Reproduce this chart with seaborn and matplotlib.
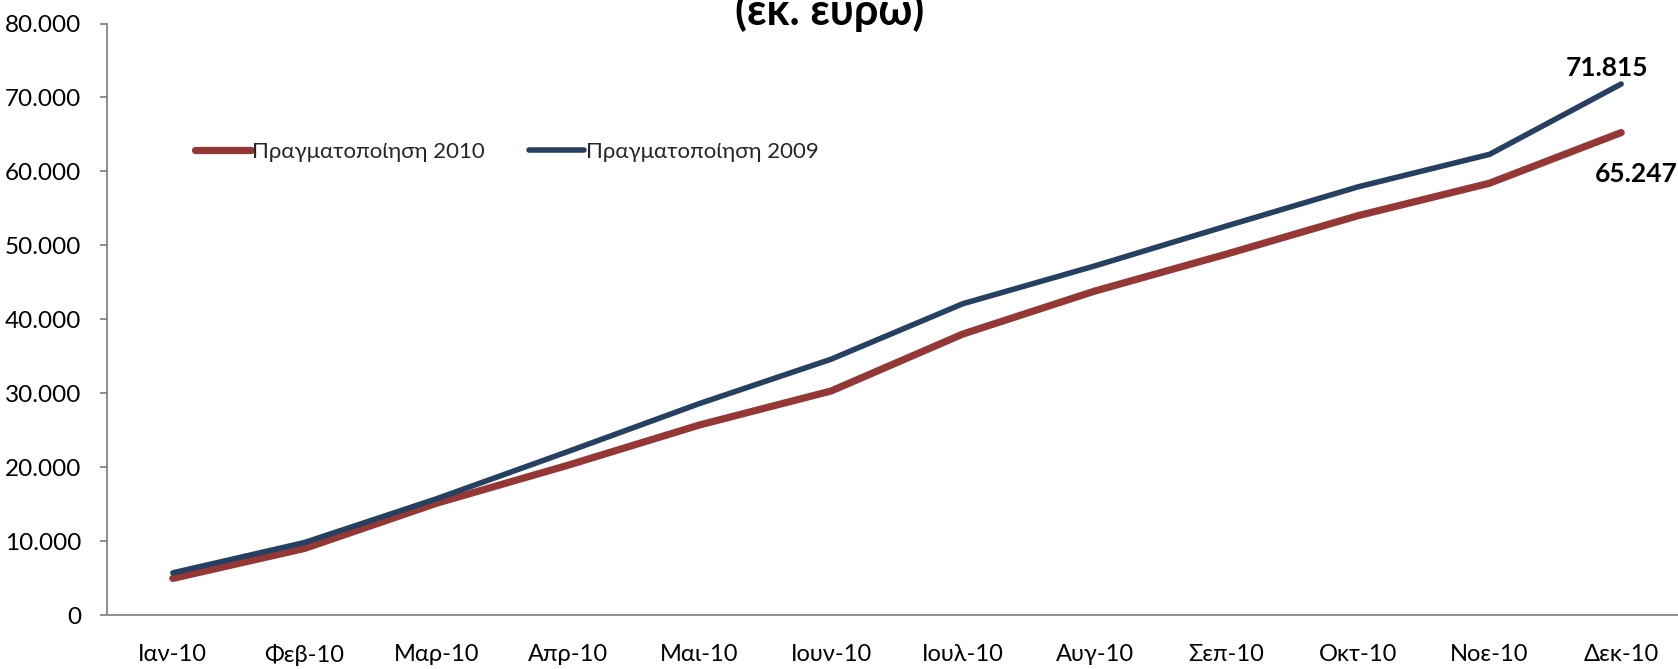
import matplotlib
matplotlib.use("Agg")
import matplotlib.pyplot as plt
import seaborn as sns
import pandas as pd
from matplotlib.ticker import FuncFormatter, MultipleLocator

months = ["Ιαν-10", "Φεβ-10", "Μαρ-10", "Απρ-10", "Μαι-10", "Ιουν-10",
          "Ιουλ-10", "Αυγ-10", "Σεπ-10", "Οκτ-10", "Νοε-10", "Δεκ-10"]
real_2010 = [4950, 9000, 15100, 20250, 25700, 30300, 38000, 43800, 48800, 54000, 58400, 65247]
real_2009 = [5700, 9800, 15700, 22100, 28600, 34600, 42100, 47200, 52600, 57900, 62300, 71815]
label_2010 = "Πραγματοποίηση 2010"
label_2009 = "Πραγματοποίηση 2009"
title = "(εκ. ευρω)"

sns.set_theme(style="white")
plt.rcParams["font.family"] = ["Lato", "DejaVu Sans"]

df = pd.DataFrame({"month": months, "v2010": real_2010, "v2009": real_2009})
df["x"] = range(len(months))

W, H = 1678, 669
fig = plt.figure(figsize=(W / 100, H / 100), dpi=100)
ax = fig.add_axes([107 / W, 1 - 615 / H, (1687 - 107) / W, (615 - 23.5) / H])

red = "#953735"
blue = "#254061"
sns.lineplot(data=df, x="x", y="v2010", ax=ax, color=red, linewidth=5.2,
             label=label_2010, solid_capstyle="round")
sns.lineplot(data=df, x="x", y="v2009", ax=ax, color=blue, linewidth=4.0,
             label=label_2009, solid_capstyle="round")

ax.set_xlim(-0.5, len(months) - 0.5)
ax.set_ylim(0, 80000)
ax.set_xticks(range(len(months)))
ax.set_xticklabels(months)
ax.yaxis.set_major_locator(MultipleLocator(10000))
ax.yaxis.set_major_formatter(FuncFormatter(lambda v, p: f"{int(v):,}".replace(",", ".")))
ax.set_xlabel("")
ax.set_ylabel("")

for s in ["top", "right"]:
    ax.spines[s].set_visible(False)
for s in ["left", "bottom"]:
    ax.spines[s].set_color("#868686")
    ax.spines[s].set_linewidth(1.3)

ax.tick_params(axis="y", which="major", left=True, length=5, width=1.3, color="#868686",
               pad=13.5, labelsize=17.5, labelcolor="black")
ax.tick_params(axis="x", which="major", bottom=False, length=0, pad=21, labelsize=17,
               labelcolor="black")

ax.annotate(f"{real_2009[-1]:,}".replace(",", "."), xy=(11, real_2009[-1]),
            xytext=(-10, 3), textcoords="offset points", ha="center", va="bottom",
            fontsize=19, fontweight="bold", color="black", annotation_clip=False)
ax.annotate(f"{real_2010[-1]:,}".replace(",", "."), xy=(11, real_2010[-1]),
            xytext=(11, -30), textcoords="offset points", ha="center", va="center",
            fontsize=19, fontweight="bold", color="black", annotation_clip=False)

leg = ax.legend(loc="upper left", bbox_to_anchor=(175 / W, 1 - 122 / H),
                bbox_transform=fig.transFigure, ncol=2, frameon=False,
                fontsize=16, handlelength=2.5, handletextpad=0.05, columnspacing=2.0)
for h in leg.get_lines():
    h.set_solid_capstyle("round")

fig.text(830 / W, 1 - 25 / H, title, ha="center", va="baseline",
         fontsize=31, fontweight="bold", color="black")

fig.savefig("out.png", dpi=100)
